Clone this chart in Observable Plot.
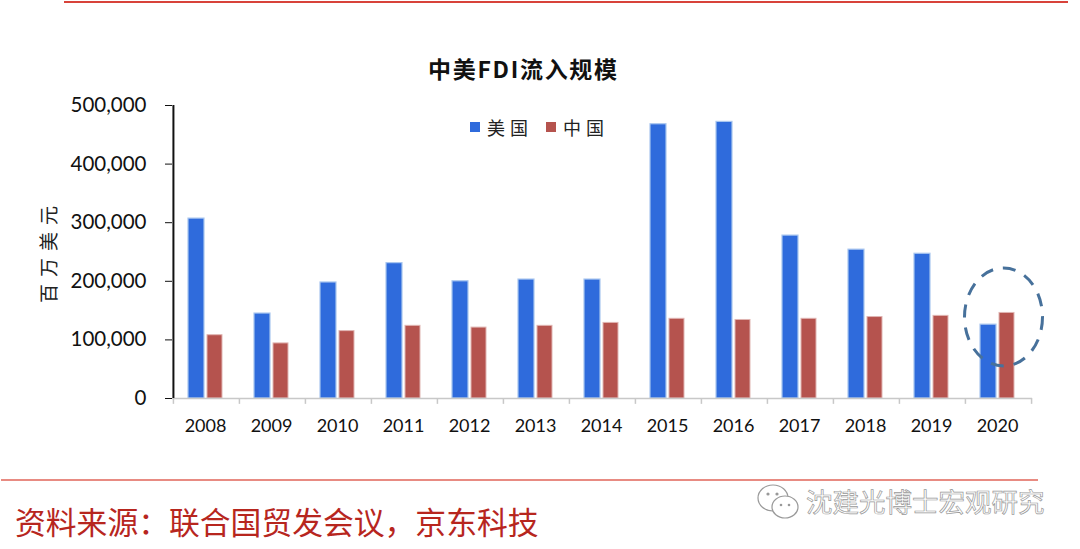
<!DOCTYPE html>
<html><head><meta charset="utf-8">
<script src="https://cdn.jsdelivr.net/npm/d3@7"></script>
<script src="https://cdn.jsdelivr.net/npm/@observablehq/plot@0.6"></script>
<style>
html,body{margin:0;padding:0;background:#fff;width:1080px;height:549px;overflow:hidden;position:relative}
.abs{position:absolute;white-space:nowrap;line-height:1}
#chart{position:absolute;left:0;top:0}
.cjk{font-family:"Noto Sans CJK SC","Noto Sans",sans-serif}
</style></head><body>
<div id="chart"></div>
<div class="abs" style="left:64px;top:1px;width:1004px;height:2px;background:#d8433a"></div>
<div class="abs" style="left:1px;top:479px;width:1037px;height:2px;background:#e88b82"></div>
<div class="abs cjk" id="title" style="left:428px;top:57px;font-size:23px;font-weight:700;color:#111;letter-spacing:1.7px">中美FDI流入规模</div>
<div class="abs" style="left:470px;top:122px;width:10px;height:10px;background:#2f6bdc"></div>
<div class="abs cjk" style="left:487px;top:118px;font-size:18px;letter-spacing:5px;color:#222">美国</div>
<div class="abs" style="left:546px;top:122px;width:10px;height:10px;background:#b5534e"></div>
<div class="abs cjk" style="left:563px;top:118px;font-size:18px;letter-spacing:5px;color:#222">中国</div>
<div class="abs cjk" style="left:15px;top:506px;font-size:30.8px;color:#b7261e">资料来源：联合国贸发会议，京东科技</div>
<div class="abs cjk" style="left:806px;top:488px;font-size:26.5px;color:#fff;-webkit-text-stroke:0.7px #999">沈建光博士宏观研究</div>
<svg class="abs" style="left:0;top:0" width="1080" height="549" fill="none">
<ellipse cx="1003.5" cy="317" rx="39" ry="49" stroke="#47719b" stroke-width="3" stroke-dasharray="13 10"/>
<ellipse cx="773" cy="498" rx="15" ry="13" fill="#fff" stroke="#999" stroke-width="1.2"/>
<ellipse cx="785" cy="507" rx="13" ry="11" fill="#fff" stroke="#999" stroke-width="1.2"/>
<circle cx="768" cy="494" r="1.6" fill="#999"/><circle cx="777" cy="494" r="1.6" fill="#999"/>
<circle cx="781" cy="505" r="1.3" fill="#999"/><circle cx="789" cy="505" r="1.3" fill="#999"/>
</svg>
<script>
const years = ["2008","2009","2010","2011","2012","2013","2014","2015","2016","2017","2018","2019","2020"];
const usFDI = [307000,145000,198000,231000,200000,203000,203000,468000,472000,278000,254000,247000,126000];
const chinaFDI = [108000,94000,115000,124000,121000,124000,129000,136000,134000,136000,139000,141000,146000];
const yTicks = [0,100000,200000,300000,400000,500000];
const usRows = years.map((year,i)=>({year,value:usFDI[i]}));
const cnRows = years.map((year,i)=>({year,value:chinaFDI[i]}));
const band = 66.15;
const plot = Plot.plot({
  width:1080,height:549,
  marginLeft:172,marginRight:48,marginTop:105,marginBottom:151,
  style:{background:"transparent",fontFamily:"Lato, 'Open Sans', sans-serif",color:"#111"},
  x:{domain:years,padding:0,label:null},
  y:{domain:[0,500000],label:null},
  marks:[
    Plot.barY(usRows,{x:"year",y:"value",fill:"#2f6bdc",stroke:"#a9c6ef",strokeWidth:1.2,insetLeft:15,insetRight:35}),
    Plot.barY(cnRows,{x:"year",y:"value",fill:"#b5534e",stroke:"#e0b5b2",strokeWidth:1,insetLeft:34,insetRight:17}),
    Plot.ruleY([0],{stroke:"#c8c8c8",strokeWidth:1.5}),
    Plot.ruleX(years,{x:d=>d,y1:0,y2:-10000,dx:-band/2,stroke:"#c8c8c8",strokeWidth:1.5}),
    Plot.ruleX(years.slice(-1),{x:d=>d,y1:0,y2:-10000,dx:band/2,stroke:"#c8c8c8",strokeWidth:1.5}),
    Plot.ruleX(years.slice(0,1),{x:d=>d,y1:0,y2:500000,dx:-band/2,stroke:"#111",strokeWidth:2}),
    Plot.axisY({ticks:yTicks,tickFormat:d3.format(","),tickSize:7,tickPadding:19,fontSize:20.5,label:null,stroke:"#111"}),
    Plot.axisX({tickSize:0,tickPadding:21,fontSize:18,dx:-1,label:null})
  ]
});
document.getElementById("chart").appendChild(plot);
</script>
<div class="abs cjk" style="left:47px;top:251px;font-size:19px;letter-spacing:7px;color:#222;transform:translate(-50%,-50%) rotate(-90deg)">百万美元</div>
</body></html>
